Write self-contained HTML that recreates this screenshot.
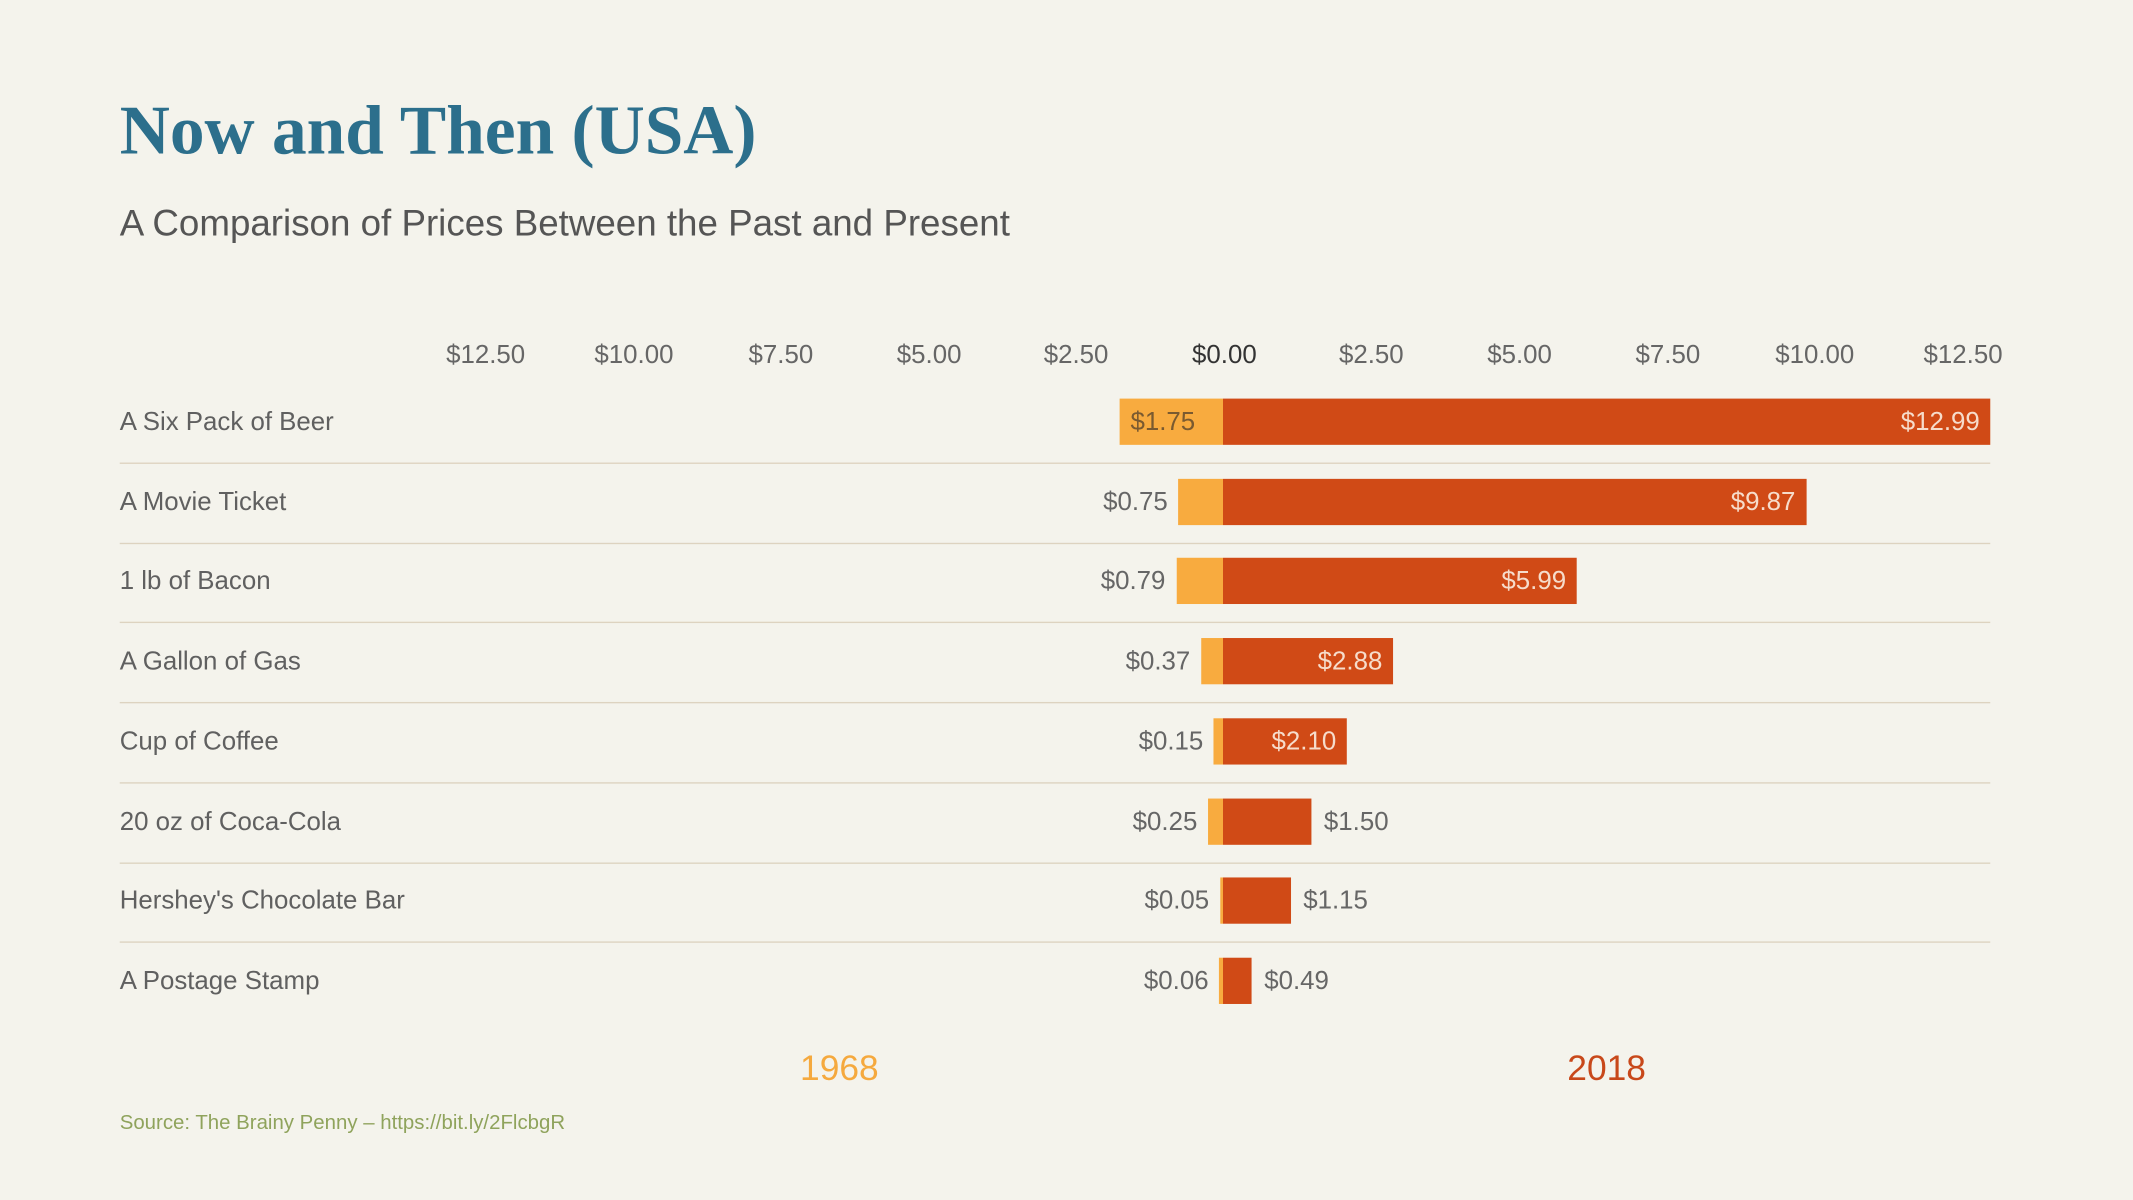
<!DOCTYPE html>
<html><head><meta charset="utf-8">
<style>
html,body{margin:0;padding:0;background:#f4f3ec;width:2133px;height:1200px;overflow:hidden}
#s{position:absolute;left:0;top:0;width:1568px;height:882px;transform:scale(1.3604);transform-origin:0 0;font-family:"Liberation Sans",sans-serif;color:#555}
.a{position:absolute;white-space:nowrap}
.t{font-family:"Liberation Serif",serif;font-weight:bold;font-size:51px;color:#2c6f8c;left:88px;top:68px;letter-spacing:0px}
.st{left:88px;top:149px;font-size:27px;color:#555}
.tk{top:251px;font-size:19px;color:#666;transform:translateX(-50%)}
.lb{left:88px;font-size:19px;color:#606060}
.ln{position:absolute;left:88px;width:1375px;height:1px;background:#ddd3c0}
.b1{position:absolute;background:#f8ab3f;height:34px}
.b2{position:absolute;background:#d04a16;height:34px}
.v{font-size:19px;color:#666}
.vi{font-size:19px;color:#f6dccb}
</style></head><body><div id="s">
<div class="a t">Now and Then (USA)</div>
<div class="a st">A Comparison of Prices Between the Past and Present</div>
<div class="a tk" style="left:357px">$12.50</div>
<div class="a tk" style="left:466px">$10.00</div>
<div class="a tk" style="left:574px">$7.50</div>
<div class="a tk" style="left:683px">$5.00</div>
<div class="a tk" style="left:791px">$2.50</div>
<div class="a tk" style="left:900px;color:#333">$0.00</div>
<div class="a tk" style="left:1008px">$2.50</div>
<div class="a tk" style="left:1117px">$5.00</div>
<div class="a tk" style="left:1226px">$7.50</div>
<div class="a tk" style="left:1334px">$10.00</div>
<div class="a tk" style="left:1443px">$12.50</div>
<div id="rows"></div>
<div class="a" style="left:617px;top:770px;font-size:26px;color:#f5a93e;transform:translateX(-50%)">1968</div>
<div class="a" style="left:1181px;top:770px;font-size:26px;color:#c8481a;transform:translateX(-50%)">2018</div>
<div class="a" style="left:88px;top:817px;font-size:15px;color:#8fa35c">Source: The Brainy Penny – https://bit.ly/2FlcbgR</div>
</div>
<script>
var d=[["A Six Pack of Beer",1.75,12.99],["A Movie Ticket",0.75,9.87],["1 lb of Bacon",0.79,5.99],["A Gallon of Gas",0.37,2.88],["Cup of Coffee",0.15,2.10],["20 oz of Coca-Cola",0.25,1.50],["Hershey's Chocolate Bar",0.05,1.15],["A Postage Stamp",0.06,0.49]];
var z=899,k=43.44,h="";
d.forEach(function(r,i){
 var c=310+i*58.7,top=c-17,ty=c-10;
 h+='<div class="a lb" style="top:'+ty+'px">'+r[0]+'</div>';
 if(i<7)h+='<div class="ln" style="top:'+(c+30)+'px"></div>';
 var w1=r[1]*k,w2=r[2]*k;
 h+='<div class="b1" style="left:'+(z-w1)+'px;width:'+w1+'px;top:'+top+'px"></div>';
 h+='<div class="b2" style="left:'+z+'px;width:'+w2+'px;top:'+top+'px"></div>';
 if(i==0)h+='<div class="a v" style="left:'+(z-w1+8)+'px;top:'+ty+'px;color:#7a5a30">$'+r[1].toFixed(2)+'</div>';
 else h+='<div class="a v" style="right:'+(1568-(z-w1)+8)+'px;top:'+ty+'px">$'+r[1].toFixed(2)+'</div>';
 if(i<5)h+='<div class="a vi" style="right:'+(1568-(z+w2)+8)+'px;top:'+ty+'px">$'+r[2].toFixed(2)+'</div>';
 else h+='<div class="a v" style="left:'+(z+w2+9)+'px;top:'+ty+'px">$'+r[2].toFixed(2)+'</div>';
});
document.getElementById("rows").innerHTML=h;
</script>
</body></html>
